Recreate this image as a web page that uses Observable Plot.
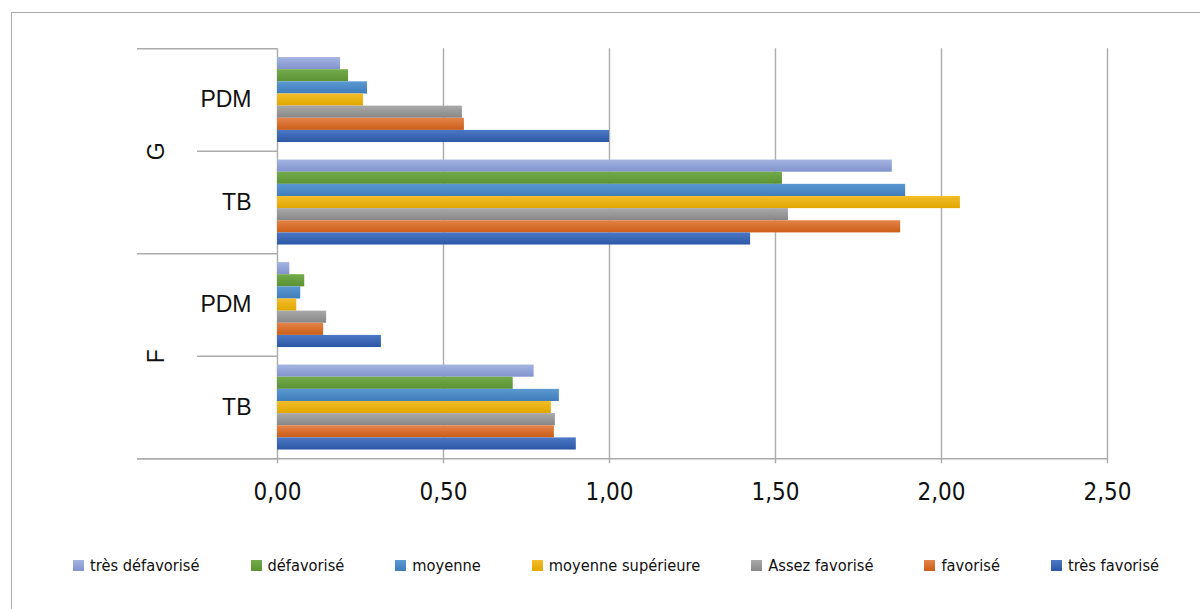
<!DOCTYPE html>
<html>
<head>
<meta charset="utf-8">
<script src="https://cdn.jsdelivr.net/npm/d3@7"></script>
<script src="https://cdn.jsdelivr.net/npm/@observablehq/plot@0.6"></script>
<style>
  html, body { margin: 0; padding: 0; background: #fff; }
  #wrap { position: relative; width: 1200px; height: 609px; overflow: hidden; background: #fff; }
  #frame { position: absolute; left: 11px; top: 12px; width: 1300px; height: 700px;
           border-left: 1.5px solid #ABABAB; border-top: 1.5px solid #ABABAB; pointer-events: none; }
  #legend { position: absolute; left: 73px; top: 556px; display: flex; gap: 51px; align-items: center;
            font-family: 'Liberation Sans Narrow', 'DejaVu Sans Condensed', sans-serif; font-size: 16.3px; color: #111; white-space: nowrap; letter-spacing: 0; }
  .item { display: flex; align-items: center; gap: 6px; }
  .sw { width: 11px; height: 11px; display: inline-block; }
</style>
</head>
<body>
<div id="wrap"><div id="frame"></div><div id="chart"></div><div id="legend"></div></div>
<script>
// ---- data ----
const groups = ["G", "F"];
const subcategories = ["PDM", "TB"];
const series = ["très défavorisé", "défavorisé", "moyenne", "moyenne supérieure", "Assez favorisé", "favorisé", "très favorisé"];
const valuesG_PDM = [0.19, 0.214, 0.271, 0.259, 0.557, 0.563, 1.00];
const valuesG_TB  = [1.852, 1.521, 1.892, 2.057, 1.539, 1.877, 1.425];
const valuesF_PDM = [0.037, 0.082, 0.070, 0.058, 0.148, 0.139, 0.313];
const valuesF_TB  = [0.773, 0.710, 0.849, 0.825, 0.837, 0.834, 0.900];
const xTicks = [0, 0.5, 1, 1.5, 2, 2.5];
const colorsTop    = ["#A4B4E2", "#72AA4C", "#5B99D3", "#F3BC2A", "#A9A9A9", "#E4844A", "#4D78C5"];
const colorsBottom = ["#8193CC", "#5A9234", "#3F7CBA", "#E0A700", "#878787", "#CB5D17", "#2B57A5"];

// ---- build table ----
const valueTable = [[valuesG_PDM, valuesG_TB], [valuesF_PDM, valuesF_TB]];
const rows = [];
const labels = [];
groups.forEach((g, gi) => subcategories.forEach((s, si) => {
  const r = gi * 2 + si;
  labels.push({r, text: s});
  series.forEach((name, k) => rows.push({r, k, name, value: valueTable[gi][si][k]}));
}));
const barFrac = 0.829;
const h = barFrac / series.length;
const pad = (1 - barFrac) / 2;

const W = 1200, H = 530;
const x0px = 277, x1px = 1107;
const unit = (x1px - x0px) / 2.5;
const outerX = -(x0px - 137) / unit;
const innerX = -(x0px - 197) / unit;
const separators = d3.range(groups.length * 2 + 1).map(i => ({y: i, x1: i % 2 === 0 ? outerX : innerX}));

const gridColor = "#ABABAB";
const chart = Plot.plot({
  width: W, height: H,
  marginLeft: x0px, marginRight: W - x1px,
  marginTop: 48.3, marginBottom: H - 458.3,
  x: {domain: [0, 2.5]},
  y: {domain: [groups.length * 2, 0], axis: null},
  color: {type: "identity"},
  style: {fontFamily: "'Liberation Sans', Arial, sans-serif", background: "transparent"},
  marks: [
    Plot.ruleX(xTicks, {y1: 0, y2: groups.length * 2, insetBottom: -5, stroke: gridColor, strokeWidth: 1.4}),
    Plot.rect(rows, {
      x1: 0, x2: "value",
      y1: d => d.r + pad + d.k * h,
      y2: d => d.r + pad + (d.k + 1) * h,
      fill: d => `url(#grad${d.k})`
    }),
    Plot.ruleY(separators, {y: "y", x1: "x1", x2: 0, stroke: gridColor, strokeWidth: 1.4}),
    Plot.ruleY([groups.length * 2], {x1: outerX, x2: 2.5, stroke: gridColor, strokeWidth: 1.4}),
    Plot.axisX(xTicks, {
      tickFormat: d => d.toFixed(2).replace(".", ","),
      tickSize: 0, tickPadding: 24, fontSize: 24,
      fontFamily: "'Liberation Sans Narrow', 'DejaVu Sans Condensed', sans-serif",
      fill: "#111", label: null
    }),
    Plot.text(labels, {x: 0, y: d => d.r + 0.5, text: "text", dx: -26, textAnchor: "end", fontSize: 23, fill: "#111"}),
    Plot.text(groups, {x: 0, y: (d, i) => i * 2 + 1, text: d => d, rotate: -90, dx: -121, fontSize: 23, fill: "#111"})
  ]
});

const defs = d3.select(chart).insert("defs", ":first-child");
series.forEach((s, k) => {
  const g = defs.append("linearGradient").attr("id", `grad${k}`).attr("x1", 0).attr("y1", 0).attr("x2", 0).attr("y2", 1);
  g.append("stop").attr("offset", "0%").attr("stop-color", colorsTop[k]);
  g.append("stop").attr("offset", "100%").attr("stop-color", colorsBottom[k]);
});
document.getElementById("chart").appendChild(chart);

const legend = d3.select("#legend");
series.forEach((s, k) => {
  const it = legend.append("div").attr("class", "item");
  it.append("span").attr("class", "sw").style("background", `linear-gradient(${colorsTop[k]}, ${colorsBottom[k]})`);
  it.append("span").text(s);
});
</script>
</body>
</html>
